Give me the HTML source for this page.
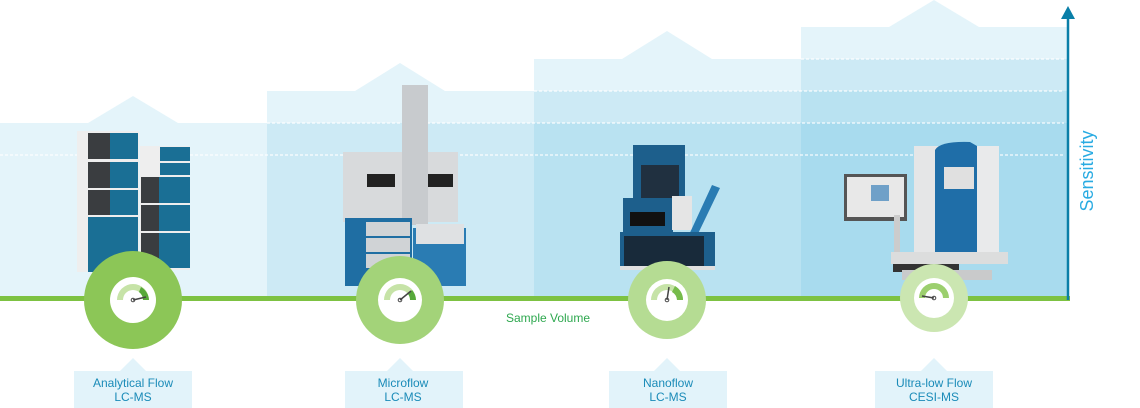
<!DOCTYPE html>
<html><head><meta charset="utf-8"><style>
html,body{margin:0;padding:0;background:#fff;width:1140px;height:408px;overflow:hidden}
svg{display:block}
text{font-family:"Liberation Sans",sans-serif}
</style></head><body>
<svg width="1140" height="408" viewBox="0 0 1140 408" xmlns="http://www.w3.org/2000/svg">
<g fill="#47b4de" fill-opacity="0.15">
<polygon points="0,123 88,123 133,96 178,123 1068,123 1068,300 0,300"/>
<polygon points="267,91 355,91 400,63 445,91 1068,91 1068,300 267,300"/>
<polygon points="534,59 622,59 667,31 712,59 1068,59 1068,300 534,300"/>
<polygon points="801,27 889,27 934,0 979,27 1068,27 1068,300 801,300"/>
</g>
<g stroke="#fff" stroke-width="1.3" stroke-dasharray="3,2" opacity="0.9">
<line x1="0" y1="155" x2="1064" y2="155"/>
<line x1="267" y1="123" x2="1064" y2="123"/>
<line x1="534" y1="91" x2="1064" y2="91"/>
<line x1="801" y1="59" x2="1064" y2="59"/>
</g>
<!-- instrument 1 -->
<g>
<rect x="77" y="131" width="62" height="141" fill="#eeeeee"/>
<rect x="88" y="133" width="50" height="26" fill="#1a6f95"/><rect x="88" y="133" width="22" height="26" fill="#3a3d40"/>
<rect x="88" y="162" width="50" height="26" fill="#1a6f95"/><rect x="88" y="162" width="22" height="26" fill="#3a3d40"/>
<rect x="88" y="190" width="50" height="25" fill="#1a6f95"/><rect x="88" y="190" width="22" height="25" fill="#3a3d40"/>
<rect x="88" y="217" width="50" height="55" fill="#1a6f95"/>
<rect x="140" y="146" width="50" height="124" fill="#eeeeee"/>
<rect x="160" y="147" width="30" height="14" fill="#1a6f95"/>
<rect x="160" y="163" width="30" height="12" fill="#1a6f95"/>
<rect x="141" y="177" width="49" height="26" fill="#1a6f95"/><rect x="141" y="177" width="18" height="26" fill="#3a3d40"/>
<rect x="141" y="205" width="49" height="26" fill="#1a6f95"/><rect x="141" y="205" width="18" height="26" fill="#3a3d40"/>
<rect x="141" y="233" width="49" height="35" fill="#1a6f95"/><rect x="141" y="233" width="18" height="25" fill="#3a3d40"/>
</g>
<!-- instrument 2 -->
<g>
<rect x="343" y="152" width="115" height="70" fill="#d8dadc"/>
<rect x="367" y="174" width="28" height="13" fill="#222"/><rect x="428" y="174" width="25" height="13" fill="#222"/>
<rect x="402" y="85" width="26" height="140" fill="#c8cbce"/>
<rect x="345" y="218" width="67" height="68" fill="#1f6ea3"/>
<rect x="366" y="222" width="44" height="14" fill="#d0d3d6"/><rect x="366" y="238" width="44" height="14" fill="#d0d3d6"/><rect x="366" y="254" width="44" height="14" fill="#d0d3d6"/>
<rect x="413" y="228" width="53" height="58" fill="#2a7cb3"/>
<rect x="416" y="224" width="48" height="20" fill="#dfe1e3"/>
</g>
<!-- instrument 3 -->
<g>
<rect x="633" y="145" width="52" height="58" fill="#1d5f8c"/>
<rect x="641" y="165" width="38" height="40" fill="#203040"/>
<rect x="623" y="198" width="50" height="34" fill="#1d5f8c"/>
<rect x="630" y="212" width="35" height="14" fill="#111"/>
<rect x="672" y="196" width="20" height="34" fill="#e5e5e5"/>
<polygon points="688,237 712,185 720,188 695,240" fill="#2a7cb3"/>
<rect x="620" y="232" width="95" height="38" fill="#1d5f8c"/>
<rect x="624" y="236" width="80" height="30" fill="#182a3a"/>
<rect x="620" y="266" width="95" height="4" fill="#e0e0e0"/>
</g>
<!-- instrument 4 -->
<g>
<rect x="844" y="174" width="63" height="47" fill="#555"/>
<rect x="847" y="177" width="57" height="40" fill="#e8e8e8"/>
<rect x="871" y="185" width="18" height="16" fill="#6fa0c8"/>
<rect x="894" y="215" width="6" height="40" fill="#ccc"/>
<rect x="914" y="146" width="30" height="108" fill="#e5e6e7"/>
<path d="M935 150 Q940 141 970 142 L977 146 L977 252 L935 252 Z" fill="#1f6ea8"/>
<rect x="944" y="167" width="30" height="22" fill="#e0e0e0"/>
<rect x="977" y="146" width="22" height="110" fill="#e9eaeb"/>
<rect x="891" y="252" width="117" height="12" fill="#dcdddd"/>
<rect x="893" y="264" width="66" height="8" fill="#333"/>
<rect x="902" y="270" width="90" height="10" fill="#c9cacb"/>
</g>
<!-- axes -->
<rect x="0" y="296" width="1070" height="5" fill="#7dc242"/>
<line x1="1068" y1="300" x2="1068" y2="14" stroke="#0a7fa8" stroke-width="2.5"/>
<polygon points="1061,19 1068,6 1075,19" fill="#0a7fa8"/>
<text transform="translate(1093,171) rotate(-90)" text-anchor="middle" font-size="18" fill="#29abe2">Sensitivity</text>
<text x="548" y="322" text-anchor="middle" font-size="12" fill="#2ea84f">Sample Volume</text>
<!-- gauges -->
<g>
<circle cx="133" cy="300" r="49" fill="#8cc657"/><circle cx="133" cy="300" r="23" fill="#fff"/>
<path d="M117 300 A16 16 0 0 1 149 300 L143 300 A10 10 0 0 0 123 300 Z" fill="#c6e3a7"/>
<path d="M141 287 A16 16 0 0 1 149 300 L143 300 A10 10 0 0 0 139 292 Z" fill="#57a83a"/>
<line x1="133" y1="300" x2="146" y2="297" stroke="#444" stroke-width="1.5"/><circle cx="133" cy="300" r="1.8" fill="none" stroke="#444"/>
</g>
<g>
<circle cx="400" cy="300" r="44" fill="#a3d379"/><circle cx="400" cy="300" r="22" fill="#fff"/>
<path d="M384 300 A16 16 0 0 1 416 300 L410 300 A10 10 0 0 0 390 300 Z" fill="#c6e3a7"/>
<path d="M412 290 A16 16 0 0 1 416 300 L410 300 A10 10 0 0 0 408 294 Z" fill="#57a83a"/>
<line x1="400" y1="300" x2="411" y2="291" stroke="#444" stroke-width="1.5"/><circle cx="400" cy="300" r="1.8" fill="none" stroke="#444"/>
</g>
<g>
<circle cx="667" cy="300" r="39" fill="#b5dc93"/><circle cx="667" cy="300" r="21" fill="#fff"/>
<path d="M651 300 A16 16 0 0 1 683 300 L677 300 A10 10 0 0 0 657 300 Z" fill="#c6e3a7"/>
<path d="M675 286 A16 16 0 0 1 683 300 L677 300 A10 10 0 0 0 672 292 Z" fill="#76bb4a"/>
<line x1="667" y1="300" x2="669" y2="287" stroke="#444" stroke-width="1.5"/><circle cx="667" cy="300" r="1.8" fill="none" stroke="#444"/>
</g>
<g>
<circle cx="934" cy="298" r="34" fill="#cbe6b1"/><circle cx="934" cy="298" r="20" fill="#fff"/>
<path d="M919 298 A15 15 0 0 1 949 298 L943 298 A9 9 0 0 0 925 298 Z" fill="#9ccf6e"/>
<line x1="934" y1="298" x2="922" y2="296" stroke="#444" stroke-width="1.5"/><circle cx="934" cy="298" r="1.8" fill="none" stroke="#444"/>
</g>
<!-- labels -->
<g fill="#e2f3fa">
<polygon points="74,371 120,371 133,358 146,371 192,371 192,408 74,408"/>
<polygon points="345,371 387,371 400,358 413,371 463,371 463,408 345,408"/>
<polygon points="609,371 654,371 667,358 680,371 727,371 727,408 609,408"/>
<polygon points="875,371 921,371 934,358 947,371 993,371 993,408 875,408"/>
</g>
<g font-size="12" fill="#1a8bb8" text-anchor="middle">
<text x="133" y="387">Analytical Flow</text><text x="133" y="401">LC-MS</text>
<text x="403" y="387">Microflow</text><text x="403" y="401">LC-MS</text>
<text x="668" y="387">Nanoflow</text><text x="668" y="401">LC-MS</text>
<text x="934" y="387">Ultra-low Flow</text><text x="934" y="401">CESI-MS</text>
</g>
</svg>
</body></html>
